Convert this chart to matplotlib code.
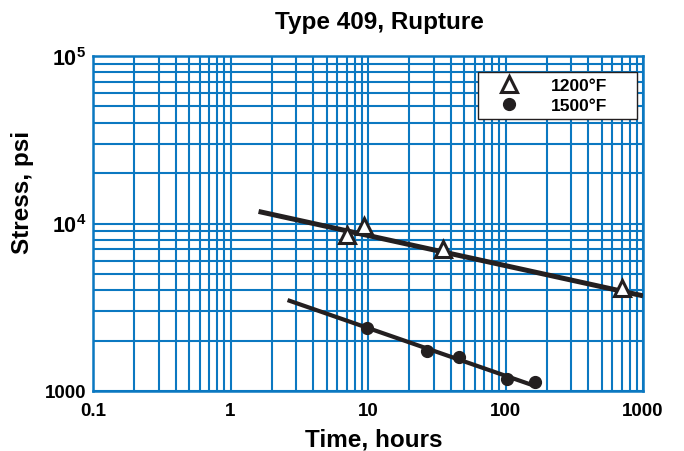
import numpy as np
import matplotlib
matplotlib.use('Agg')
import matplotlib.pyplot as plt

plt.rcParams['font.family'] = ['Liberation Sans', 'DejaVu Sans']
plt.rcParams['font.weight'] = 'bold'
plt.rcParams['mathtext.fontset'] = 'custom'
plt.rcParams['mathtext.rm'] = 'Liberation Sans:bold'
plt.rcParams['mathtext.bf'] = 'Liberation Sans:bold'

# rupture data
t1200 = [7.0, 9.3, 35, 700]
s1200 = [8500, 9600, 7000, 4100]
fit1200_t = [1.6, 1000]
fit1200_s = [11800, 3700]

t1500 = [9.8, 27, 46, 102, 164]
s1500 = [2390, 1740, 1600, 1175, 1135]
fit1500_t = [2.6, 170]
fit1500_s = [3490, 1060]

xticks = [0.1, 1, 10, 100, 1000]
xlabels = ['0.1', '1', '10', '100', '1000']
yticks = [1000, 1e4, 1e5]
ylabels = ['1000', r'$\mathbf{10^4}$', r'$\mathbf{10^5}$']

blue = '#0b78c1'
ink = '#231f20'

fig = plt.figure(figsize=(6.84, 4.52), dpi=100)
ax = fig.add_axes([93/684, 1-392/452, 550/684, 335/452])
ax.set_xscale('log')
ax.set_yscale('log')
ax.set_xlim(0.1, 1000)
ax.set_ylim(1000, 1e5)

ax.grid(True, which='both', color=blue, lw=1.5)
ax.set_axisbelow(True)
for sp in ax.spines.values():
    sp.set_color(blue)
    sp.set_linewidth(1.8)

ax.set_xticks(xticks)
ax.set_xticklabels(xlabels)
ax.set_yticks(yticks)
ax.set_yticklabels(ylabels)
ax.tick_params(which='both', length=0, labelsize=13.5)
ax.tick_params(axis='x', pad=8)
ax.tick_params(axis='y', pad=5)
for lab in ax.get_yticklabels()[1:]:
    lab.set_fontsize(15.5)

ax.plot(fit1200_t, fit1200_s, color=ink, lw=3.6, solid_capstyle='butt', zorder=3)
ax.plot(fit1500_t, fit1500_s, color=ink, lw=3.0, solid_capstyle='butt', zorder=3)
ax.plot(t1200, s1200, ls='none', marker='^', ms=12, mfc='white', mec=ink,
        mew=2.2, label='1200°F', zorder=4)
ax.plot(t1500, s1500, ls='none', marker='o', ms=8.5, mfc=ink, mec=ink,
        label='1500°F', zorder=4)

leg = ax.legend(loc='upper left', bbox_to_anchor=(0.7, 0.0, 0.289, 0.952), mode='expand',
                fancybox=False, framealpha=1, edgecolor=ink,
                prop={'size': 12.5, 'weight': 'bold'},
                handlelength=2.9, handletextpad=0.95, borderpad=0.35, labelspacing=0.25,
                borderaxespad=0)
leg.get_frame().set_linewidth(1.0)

fig.text(379/684, 1-22/452, 'Type 409, Rupture', ha='center', va='center', fontsize=17.5,
         fontweight='bold')
fig.text(374/684, 1-440/452, 'Time, hours', ha='center', va='center', fontsize=17.5,
         fontweight='bold')
fig.text(22.5/684, 1-192/452, 'Stress, psi', ha='center', va='center', rotation=90,
         fontsize=17.5, fontweight='bold')

fig.savefig('out.png', dpi=100)
